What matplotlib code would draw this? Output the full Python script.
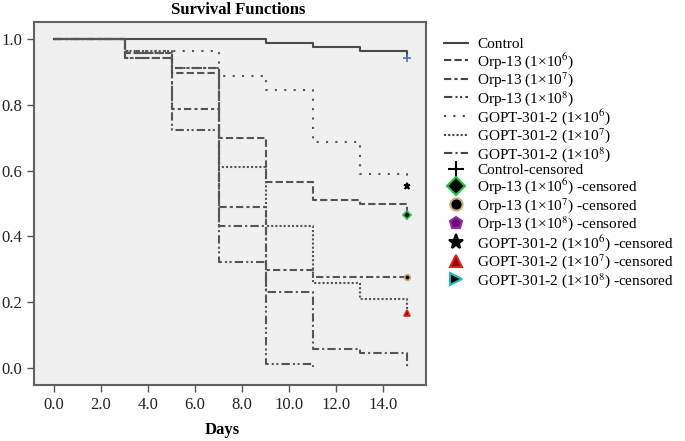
import matplotlib
matplotlib.use("Agg")
import matplotlib.pyplot as plt
from matplotlib.lines import Line2D

plt.rcParams['font.family'] = ['Liberation Serif', 'DejaVu Serif']
plt.rcParams['mathtext.fontset'] = 'stix'

# event times (days) and survival estimates
days = [0, 3, 5, 7, 9, 11, 13, 15]
control = [1.0, 1.0, 1.0, 1.0, 0.989, 0.977, 0.965, 0.943]
orp_1e6 = [1.0, 0.957, 0.898, 0.698, 0.566, 0.511, 0.498, 0.465]
orp_1e7 = [1.0, 0.957, 0.787, 0.488, 0.298, 0.277, 0.277, 0.277]
orp_1e8 = [1.0, 0.944, 0.723, 0.322, 0.011, 0.003]
gopt_1e6 = [1.0, 0.965, 0.965, 0.888, 0.845, 0.687, 0.589, 0.554]
gopt_1e7 = [1.0, 0.965, 0.911, 0.610, 0.432, 0.259, 0.210, 0.167]
gopt_1e8 = [1.0, 0.944, 0.911, 0.432, 0.232, 0.057, 0.045, 0.0]

x_ticks = [0, 2, 4, 6, 8, 10, 12, 14]
y_ticks = [0.0, 0.2, 0.4, 0.6, 0.8, 1.0]

series = [
    ("Control", control, '-'),
    ("Orp-13 (1×10$^{6}$)", orp_1e6, (0, (3.5, 1.5))),
    ("Orp-13 (1×10$^{7}$)", orp_1e7, (0, (3.5, 1.5, 1.5, 1.5))),
    ("Orp-13 (1×10$^{8}$)", orp_1e8, (0, (4, 1.5, 1, 1.2, 1, 1.5))),
    ("GOPT-301-2 (1×10$^{6}$)", gopt_1e6, (0, (1, 3.5))),
    ("GOPT-301-2 (1×10$^{7}$)", gopt_1e7, (0, (1, 1))),
    ("GOPT-301-2 (1×10$^{8}$)", gopt_1e8, (0, (4, 1.5, 1, 1.5))),
]

# censored markers: (label, y at end, marker, face, edge, size)
censored = [
    ("Control-censored", control[-1], '+', 'none', '#4472c4', 6),
    ("Orp-13 (1×10$^{6}$) -censored", orp_1e6[-1], 'D', 'black', '#22c040', 4),
    ("Orp-13 (1×10$^{7}$) -censored", orp_1e7[-1], 'o', 'black', '#c8b070', 4),
    ("Orp-13 (1×10$^{8}$) -censored", None, 'p', '#6a0d7a', '#9a2aa8', 4),
    ("GOPT-301-2 (1×10$^{6}$) -censored", gopt_1e6[-1], '*', 'black', 'black', 5),
    ("GOPT-301-2 (1×10$^{7}$) -censored", gopt_1e7[-1], '^', '#9a0000', '#e02020', 4),
    ("GOPT-301-2 (1×10$^{8}$) -censored", None, '>', 'black', '#20b8c8', 4),
]

fig = plt.figure(figsize=(6.85, 4.41), dpi=100)
ax = fig.add_axes([0.0496, 0.127, 0.5726, 0.823])
ax.set_facecolor('#f0f0f0')

line_col = '#555555'
for label, vals, ls in series:
    col = '#4a4a4a' if label == "Control" else line_col
    ax.step(days[:len(vals)], vals, where='post', color=col, lw=1.5, linestyle=ls)

for label, yv, mk, fc, ec, ms in censored:
    if yv is not None:
        ax.plot([15], [yv], marker=mk, ms=ms, mfc=fc, mec=ec, mew=1.2, ls='none')

ax.set_xlim(-0.85, 15.83)
ax.set_ylim(-0.052, 1.052)
ax.set_xticks(x_ticks)
ax.set_xticklabels([f"{v:.1f}" for v in x_ticks], fontsize=12)
ax.set_yticks(y_ticks)
ax.set_yticklabels([f"{v:.1f}" for v in y_ticks], fontsize=12)
ax.tick_params(direction='out', length=5, width=1, color='#555555', labelcolor='#222222')
for sp in ax.spines.values():
    sp.set_color('#606060')
    sp.set_linewidth(1.5)

fig.text(0.347, 0.977, "Survival Functions", ha='center', va='center',
         fontsize=12, fontweight='bold')
fig.text(0.324, 0.025, "Days", ha='center', va='center', fontsize=12, fontweight='bold')

handles = []
labels = []
for label, vals, ls in series:
    handles.append(Line2D([], [], color='#444444', lw=1.5, linestyle=ls))
    labels.append(label)
for label, yv, mk, fc, ec, ms in censored:
    handles.append(Line2D([], [], marker=mk, ms=ms * 2.2 if mk != '+' else 12,
                          mfc=fc, mec=ec if mk != '+' else 'black', mew=1.5, ls='none'))
    labels.append(label)

fig.legend(handles, labels, loc='upper left', bbox_to_anchor=(0.648, 0.915),
           frameon=False, fontsize=11, labelspacing=-0.03, handlelength=1.6,
           handletextpad=0.6, borderpad=0, borderaxespad=0)

fig.savefig("out.png", dpi=100)
